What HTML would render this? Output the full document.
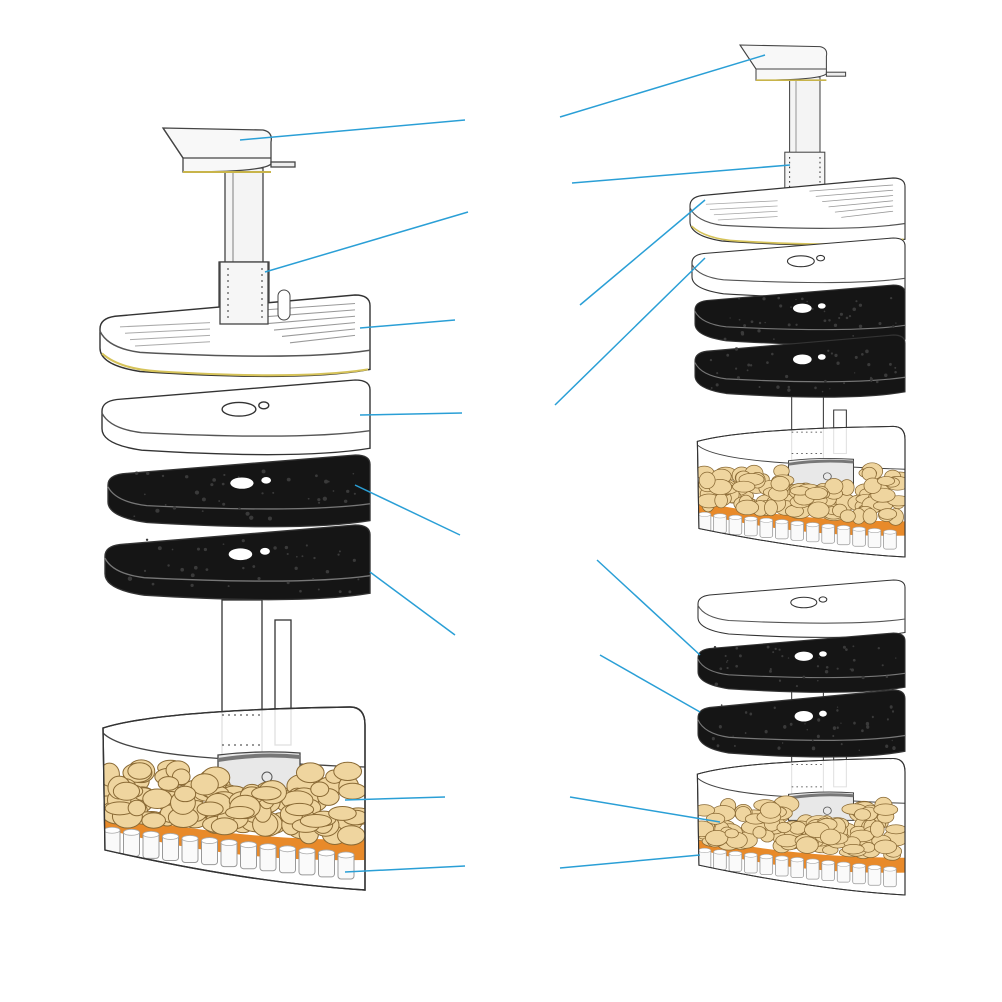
<!DOCTYPE html>
<html><head><meta charset="utf-8"><style>html,body{margin:0;padding:0;background:#fff}svg{display:block}</style></head>
<body>
<svg id="s" width="1002" height="1002" viewBox="0 0 1002 1002" xmlns="http://www.w3.org/2000/svg">
<rect width="1002" height="1002" fill="#fff"/>
</svg>
<script>
var S=document.getElementById('s');var out='';var cid=0;
var seed=7;function r(){seed=(seed*16807)%2147483647;return seed/2147483647;}
function nozzle(x,y,sx,sy){
 out+='<g transform="translate('+x+','+y+') scale('+sx+','+sy+')" stroke="#444" stroke-width="1.3" fill="#fff">';
 out+='<rect x="62" y="40" width="38" height="100" fill="#f4f4f4"/>';
 out+='<line x1="70" y1="42" x2="70" y2="138" stroke="#999"/>';
 out+='<path d="M0,0 L100,2 Q110,4 108,14 L108,36 Q100,44 20,44 L20,30 Z" fill="#f8f8f8"/>';
 out+='<path d="M0,0 L20,30 L108,30" fill="none"/>';
 out+='<line x1="20" y1="44" x2="108" y2="44" stroke="#c8b44a" stroke-width="2"/>';
 out+='<rect x="108" y="34" width="24" height="5" fill="#eee"/>';
 out+='<rect x="56" y="134" width="50" height="62" fill="#f6f6f6"/>';
 out+='<line x1="62" y1="140" x2="62" y2="196" stroke="#333" stroke-dasharray="2,4"/>';
 out+='<line x1="100" y1="140" x2="100" y2="196" stroke="#333" stroke-dasharray="2,4"/>';
 out+='</g>';
}
function plate(x,y,w,h,kind){
 var dark=kind=='black';
 var sx=w/270,sy=h/80;
 out+='<g transform="translate('+x+','+y+') scale('+sx+','+sy+')">';
 var fill=dark?'#151515':'#fff';
 out+='<path d="M0,32 Q0,22 15,20 L255,0 Q270,0 270,10 L270,70 Q200,82 40,72 Q0,66 0,50 Z" fill="'+fill+'" stroke="#333" stroke-width="1.4"/>';
 out+='<path d="M0,34 Q8,50 40,54 Q200,62 270,52" fill="none" stroke="'+(dark?'#777':'#555')+'" stroke-width="1.4"/>';
 if(dark){
  for(var i=0;i<40;i++){out+='<circle cx="'+(20+r()*240)+'" cy="'+(15+r()*55)+'" r="'+(0.8+r()*1.5)+'" fill="#3a3a3a"/>';}
  out+='<ellipse cx="138" cy="30" rx="12" ry="6" fill="#fff"/><ellipse cx="163" cy="27" rx="5" ry="3.5" fill="#fff"/>';
 }else if(kind=='white'){
  out+='<ellipse cx="138" cy="30" rx="17" ry="7" fill="none" stroke="#333" stroke-width="1.4"/><ellipse cx="163" cy="26" rx="5" ry="3.5" fill="none" stroke="#333" stroke-width="1.4"/>';
 }else{
  for(var i=0;i<6;i++){out+='<line x1="'+(150+i*8)+'" y1="'+(15+i*6)+'" x2="255" y2="'+(8+i*6)+'" stroke="#999" stroke-width="1"/>';}
  for(var i=0;i<4;i++){out+='<line x1="'+(20+i*5)+'" y1="'+(30+i*6)+'" x2="110" y2="'+(26+i*6)+'" stroke="#aaa" stroke-width="1"/>';}
  out+='<path d="M2,55 Q20,70 60,72 Q200,80 268,70" fill="none" stroke="#d6c35a" stroke-width="2"/>';
 }
 out+='</g>';
}
function container(x,y,w,h,tubeTop){
 var sx=w/265,sy=h/185;
 var ty=(tubeTop-y)/sy;
 var id='c'+(cid++);
 var shape='M3,23 Q60,5 250,2 Q265,2 265,20 L265,185 Q150,178 5,145 Z';
 out+='<g transform="translate('+x+','+y+') scale('+sx+','+sy+')">';
 out+='<clipPath id="'+id+'"><path d="'+shape+'"/></clipPath>';
 out+='<rect x="122" y="'+ty+'" width="40" height="'+(60-ty)+'" fill="#fff" stroke="#333" stroke-width="1.3"/>';
 out+='<rect x="175" y="'+(ty+20/sy)+'" width="16" height="'+(40-ty-20/sy)+'" fill="#fff" stroke="#333" stroke-width="1.3"/>';
 out+='<path d="'+shape+'" fill="rgba(255,255,255,0.85)" stroke="#333" stroke-width="1.4"/>';
 out+='<line x1="122" y1="10" x2="162" y2="10" stroke="#333" stroke-dasharray="2,4"/><line x1="122" y1="40" x2="162" y2="40" stroke="#333" stroke-dasharray="2,4"/>';
 out+='<path d="M3,28 Q20,45 100,52 Q200,60 265,62" fill="none" stroke="#444" stroke-width="1.3"/>';
 out+='<path d="M118,50 L118,85 L200,85 L200,48 Q160,45 118,50Z" fill="#e8e8e8" stroke="#444" stroke-width="1.3"/>';
 out+='<path d="M118,55 Q160,48 200,52" fill="none" stroke="#777" stroke-width="4"/>';
 out+='<circle cx="167" cy="72" r="5" fill="none" stroke="#555"/>';
 out+='<g clip-path="url(#'+id+')">';
 out+='<path d="M5,108 Q130,135 265,135 L265,155 Q130,158 5,124 Z" fill="#e88a2a"/>';
 for(var i=0;i<130;i++){
  var px=8+r()*252, t=px/265; var top=62+ r()*8, bot=112+t*22;
  var py=top+r()*(bot-top);
  if(px>118&&px<200&&py<85)py=88+r()*10;
  var rx=8+r()*8, ry=6+r()*6;
  out+='<ellipse cx="'+px+'" cy="'+py+'" rx="'+rx+'" ry="'+ry+'" fill="#efd59f" stroke="#8a6a35" stroke-width="1"/>';
 }
 for(var i=0;i<13;i++){
  var cx=12+i*19.5, t=cx/265, cy=122+t*28;
  out+='<rect x="'+(cx-8)+'" y="'+cy+'" width="16" height="26" rx="3" fill="#fafafa" stroke="#999" stroke-width="1"/>';
  out+='<ellipse cx="'+cx+'" cy="'+(cy+2)+'" rx="8" ry="3" fill="#fff" stroke="#aaa" stroke-width="0.8"/>';
 }
 out+='</g>';
 out+='<path d="'+shape+'" fill="none" stroke="#333" stroke-width="1.4"/>';
 out+='</g>';
}
container(100,705,265,185,600);
container(695,425,210,132,390);
container(695,757,210,138,690);
nozzle(163,128,1,1);
plate(100,295,270,85,'lined');
out+='<rect x="220" y="262" width="48" height="62" fill="#f6f6f6" stroke="#444" stroke-width="1.3"/><line x1="228" y1="268" x2="228" y2="320" stroke="#333" stroke-dasharray="2,4"/><line x1="262" y1="268" x2="262" y2="320" stroke="#333" stroke-dasharray="2,4"/><rect x="278" y="290" width="12" height="30" rx="6" fill="#fff" stroke="#444"/>';
plate(102,380,268,78,'white');
plate(108,455,262,75,'black');
plate(105,525,265,78,'black');
nozzle(740,45,0.8,0.8);
plate(690,178,215,70,'lined');
plate(692,238,213,62,'white');
plate(695,285,210,62,'black');
plate(695,335,210,65,'black');
plate(698,580,207,60,'white');
plate(698,633,207,62,'black');
plate(698,690,207,70,'black');
var L=[[240,140,465,120],[265,272,468,212],[360,328,455,320],[360,415,462,413],[355,485,460,535],[370,572,455,635],[345,800,445,797],[345,872,465,866],
[560,117,765,55],[572,183,790,165],[580,305,705,200],[555,405,705,258],[597,560,700,655],[600,655,700,712],[570,797,720,822],[560,868,700,855]];
L.forEach(function(l){out+='<line x1="'+l[0]+'" y1="'+l[1]+'" x2="'+l[2]+'" y2="'+l[3]+'" stroke="#2a9fd6" stroke-width="1.5"/>';});
S.innerHTML+=out;
</script>
</body></html>
